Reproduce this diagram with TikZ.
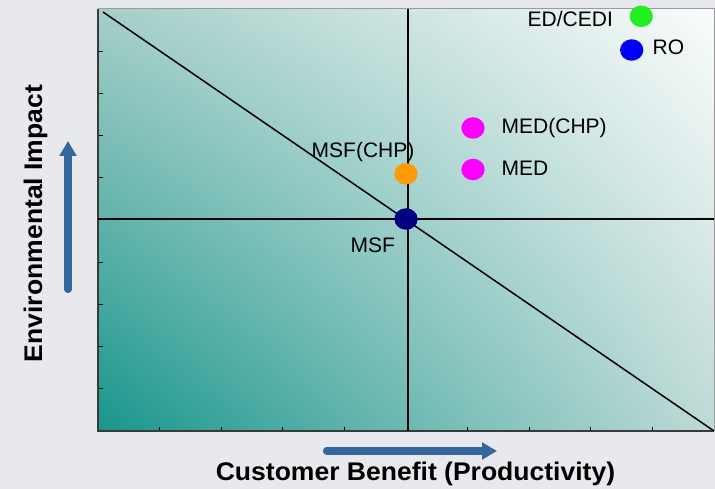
\documentclass[tikz,border=0pt]{standalone}
\usepackage{fontspec}
\setmainfont{Liberation Sans}
\newfontfamily\lblfont{Liberation Sans}
\newfontfamily\axfont{Liberation Sans}[FakeStretch=1.04]
\usetikzlibrary{shapes.geometric,arrows.meta,shadings}
\definecolor{pagebg}{HTML}{E8E9ED}
\definecolor{cLL}{RGB}{24,150,140}
\definecolor{cUL}{RGB}{165,206,200}
\definecolor{cUR}{RGB}{250,252,252}
\definecolor{cLR}{RGB}{190,218,214}
\definecolor{arrowblue}{HTML}{35679F}
\definecolor{frameA}{HTML}{3A3A3A}
\definecolor{frameB}{HTML}{9A9A9A}
\definecolor{dotgreen}{HTML}{22EE22}
\definecolor{dotblue}{HTML}{0000F5}
\definecolor{dotmag}{HTML}{FF00FF}
\definecolor{dotorange}{HTML}{FF9A0A}
\definecolor{dotnavy}{HTML}{000080}
\begin{document}
\begin{tikzpicture}[x=1pt,y=-1pt,
  dot/.style={ellipse,draw=none,inner sep=0pt,minimum width=23.3pt,minimum height=21.5pt},
  lbl/.style={anchor=base west,inner sep=0pt,font=\lblfont\fontsize{21}{21}\selectfont},
  axlbl/.style={anchor=base,inner sep=0pt,font=\axfont\bfseries\fontsize{25.5}{25.5}\selectfont},
  bigarrow/.style={draw=arrowblue,line width=7.2pt,line cap=round,-{Triangle[width=16.5pt,length=15pt]}},
  tick/.style={draw=black,line width=0.8pt},
  axisline/.style={draw=black,line width=1.2pt},
  diag/.style={draw=black,line width=1.5pt}]
\useasboundingbox (0,0) rectangle (715,489);
\fill[pagebg] (0,0) rectangle (715,489);
\shade[lower left=cLL,upper left=cUL,upper right=cUR,lower right=cLR] (98,9) rectangle (714,431);
% ticks
\foreach \yy in {51.2,93.4,135.6,177.8,262.2,304.4,346.6,388.8}
  \draw[tick] (98,\yy) -- ++(4.5,0);
\foreach \xx in {159.6,221.2,282.8,344.4,467.6,529.2,590.8,652.4}
  \draw[tick] (\xx,431) -- ++(0,-4.5);
% frame
\draw[frameB,line width=1pt] (98,9) -- (714,9) -- (714,431);
\draw[frameA,line width=1.8pt] (98,9) -- (98,431) -- (714,431);
% axes lines
\coordinate (hl) at (98,219);
\coordinate (hr) at (714,219);
\coordinate (vt) at (408,9);
\coordinate (vb) at (408,431);
\coordinate (d1) at (103,12);
\coordinate (d2) at (714,431);
\draw[axisline] (hl) -- (hr);
\draw[axisline] (vt) -- (vb);
\draw[diag] (d1) -- (d2);
% dots
\node[dot,fill=dotgreen] (edcedi) at (641.3,16.3) {};
\node[dot,fill=dotblue] (ro) at (631.7,50) {};
\node[dot,fill=dotmag] (medchp) at (473,128) {};
\node[dot,fill=dotmag] (med) at (473,169.5) {};
\node[dot,fill=dotorange] (msfchp) at (406,173.8) {};
\node[dot,fill=dotnavy] (msf) at (406,219) {};
% labels
\node[lbl] (tedcedi) at (527.5,26.7) {ED/CEDI};
\node[lbl] (tro) at (652.5,55) {RO};
\node[lbl] (tmedchp) at (501.5,134) {MED(CHP)};
\node[lbl] (tmed) at (501.5,175.5) {MED};
\node[lbl] (tmsfchp) at (311.5,158) {MSF(CHP)};
\node[lbl] (tmsf) at (350.5,252) {MSF};
% axis titles
\node[axlbl] (xtitle) at (415.5,480.5) {Customer Benefit (Productivity)};
\node[axlbl,rotate=90] (ytitle) at (42,223.5) {Environmental Impact};
% arrows
\coordinate (va) at (68,289.5);
\coordinate (vz) at (68,141);
\coordinate (ha) at (326.5,451);
\coordinate (hz) at (497,451);
\draw[bigarrow] (va) -- (vz);
\draw[bigarrow] (ha) -- (hz);
\end{tikzpicture}
\end{document}
